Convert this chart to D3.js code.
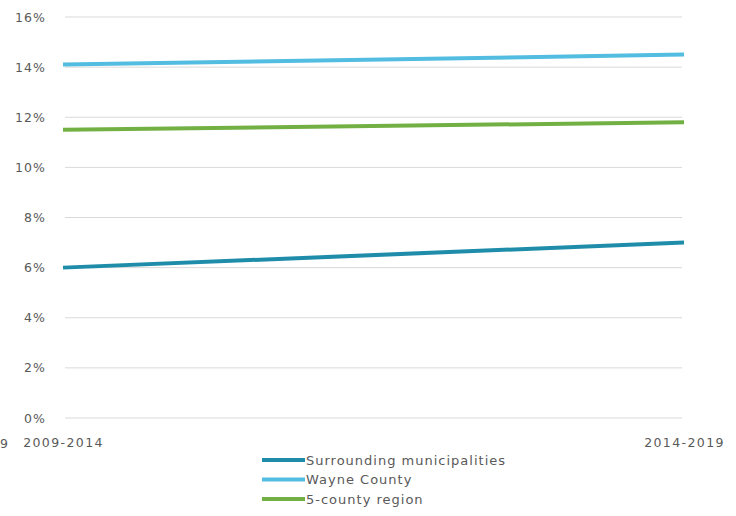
<!DOCTYPE html>
<html>
<head>
<meta charset="utf-8">
<script src="https://cdn.jsdelivr.net/npm/d3@7"></script>
<style>
  html, body { margin: 0; padding: 0; background: #fff; }
  svg { display: block; }
  text { font-family: "DejaVu Sans", sans-serif; fill: #595959; }
</style>
</head>
<body>
<svg id="chart" width="736" height="516"></svg>
<script>
// Growth periods on the x axis
const periods = ["2009-2014", "2014-2019"];

// Series values (share, in percent)
const surrounding = [6.0, 7.0];
const wayne = [14.1, 14.5];
const region5 = [11.5, 11.8];

const seriesNames = ["Surrounding municipalities", "Wayne County", "5-county region"];
const seriesColors = ["#1f8daa", "#52bde0", "#72b043"];

// Y axis tick values (percent)
const yTicks = [0, 2, 4, 6, 8, 10, 12, 14, 16];

const series = [surrounding, wayne, region5].map((values, i) => ({
  name: seriesNames[i], color: seriesColors[i], values
}));

const FONT = "'DejaVu Sans', sans-serif";
const svg = d3.select("#chart");
const plot = { left: 63, right: 684, top: 17, bottom: 418 };

const x = d3.scalePoint().domain(periods).range([plot.left, plot.right]);
const y = d3.scaleLinear().domain([0, 16]).range([plot.bottom, plot.top]);

// Horizontal gridlines
svg.append("g")
  .selectAll("line")
  .data(yTicks)
  .join("line")
  .attr("x1", plot.left + 2)
  .attr("x2", plot.right - 2)
  .attr("y1", d => y(d))
  .attr("y2", d => y(d))
  .attr("stroke", "#d9d9d9")
  .attr("stroke-width", 1);

// Y axis labels
const yAxis = svg.append("g")
  .attr("transform", `translate(${plot.left - 17},0)`)
  .call(d3.axisLeft(y).tickValues(yTicks).tickFormat(d => d + "%").tickSize(0).tickPadding(0));
yAxis.select(".domain").remove();
yAxis.selectAll("text")
  .style("font-size", "12.5px")
  .style("font-family", FONT)
  .style("letter-spacing", "1.1px")
  .attr("fill", "#595959");

// X axis labels
const xAxis = svg.append("g")
  .attr("transform", `translate(0,${plot.bottom + 20})`)
  .call(d3.axisBottom(x).tickSize(0).tickPadding(0));
xAxis.select(".domain").remove();
xAxis.selectAll("text")
  .style("font-size", "12.5px")
  .style("font-family", FONT)
  .style("letter-spacing", "1.4px")
  .attr("fill", "#595959");

// Last digit of the preceding period label at the left edge
svg.append("text")
  .attr("x", 0)
  .attr("y", plot.bottom + 30)
  .style("font-size", "12.5px")
  .text("9");

// Series lines
const line = d3.line()
  .x((d, i) => x(periods[i]))
  .y(d => y(d));

svg.append("g")
  .selectAll("path")
  .data(series)
  .join("path")
  .attr("d", d => line(d.values))
  .attr("fill", "none")
  .attr("stroke", d => d.color)
  .attr("stroke-width", 4)
  .attr("stroke-linecap", "butt");

// Legend
const legend = svg.append("g").attr("transform", "translate(262,460)");
const rows = legend.selectAll("g")
  .data(series)
  .join("g")
  .attr("transform", (d, i) => `translate(0,${i * 19.5})`);
rows.append("line")
  .attr("x1", 0).attr("x2", 43)
  .attr("y1", 0).attr("y2", 0)
  .attr("stroke", d => d.color)
  .attr("stroke-width", 4);
rows.append("text")
  .attr("x", 44)
  .attr("y", 0)
  .attr("dy", "0.35em")
  .style("font-size", "13px")
  .style("letter-spacing", "1px")
  .text(d => d.name);
</script>
</body>
</html>
